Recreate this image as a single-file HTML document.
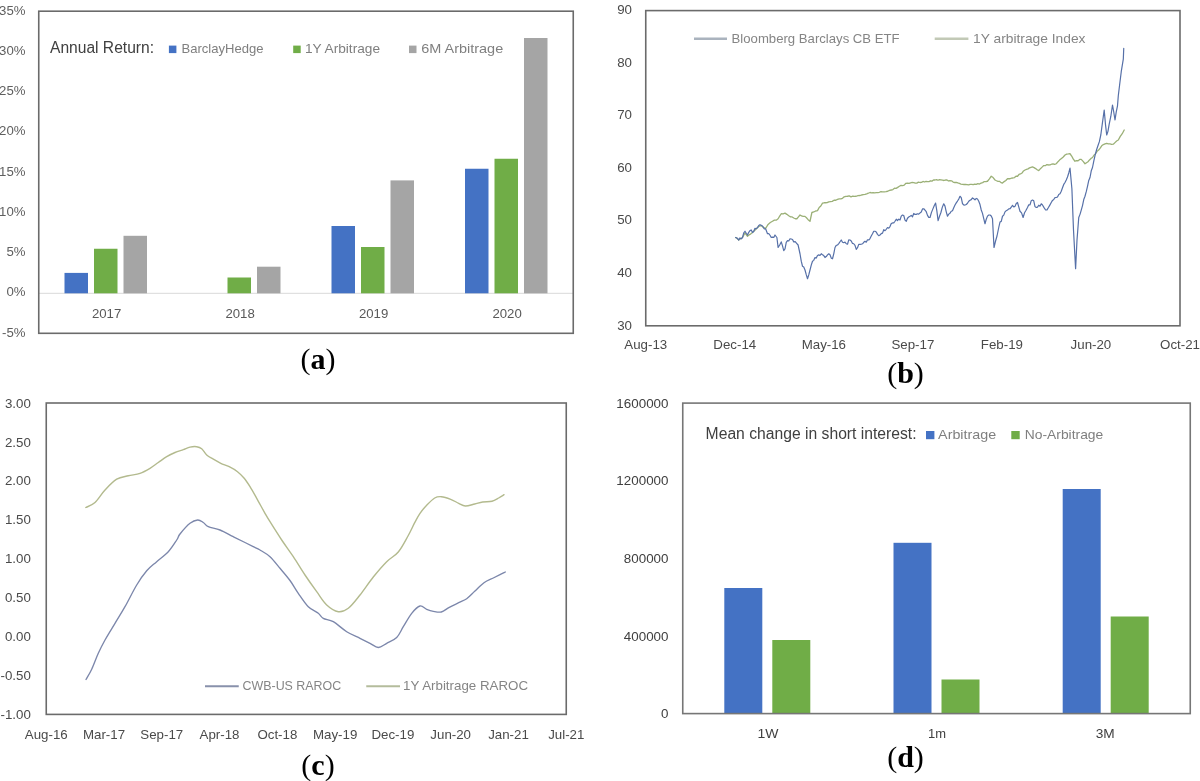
<!DOCTYPE html>
<html><head><meta charset="utf-8"><style>
html,body{margin:0;padding:0;background:#fff;}
svg{display:block;filter:blur(0.3px);}
</style></head><body>
<svg width="1200" height="781" viewBox="0 0 1200 781">
<rect width="1200" height="781" fill="#fff"/>
<line x1="38.75" y1="293.3" x2="573.25" y2="293.3" stroke="#d9d9d9" stroke-width="1"/>
<rect x="64.50" y="272.90" width="23.50" height="20.40" fill="#4472C4"/>
<rect x="94.00" y="248.75" width="23.50" height="44.55" fill="#70AD47"/>
<rect x="123.50" y="235.80" width="23.50" height="57.50" fill="#A5A5A5"/>
<rect x="227.50" y="277.50" width="23.50" height="15.80" fill="#70AD47"/>
<rect x="257.00" y="266.70" width="23.50" height="26.60" fill="#A5A5A5"/>
<rect x="331.50" y="226.00" width="23.50" height="67.30" fill="#4472C4"/>
<rect x="361.00" y="247.00" width="23.50" height="46.30" fill="#70AD47"/>
<rect x="390.50" y="180.40" width="23.50" height="112.90" fill="#A5A5A5"/>
<rect x="465.00" y="168.75" width="23.50" height="124.55" fill="#4472C4"/>
<rect x="494.50" y="158.75" width="23.50" height="134.55" fill="#70AD47"/>
<rect x="524.00" y="38.00" width="23.50" height="255.30" fill="#A5A5A5"/>
<rect x="38.75" y="11.2" width="534.5" height="322.1" fill="none" stroke="#6b6b6b" stroke-width="1.6"/>
<text x="25.5" y="14.5" font-size="13.2" fill="#5f5f5f" text-anchor="end" font-weight="normal" font-family='"Liberation Sans", sans-serif'>35%</text>
<text x="25.5" y="54.7625" font-size="13.2" fill="#5f5f5f" text-anchor="end" font-weight="normal" font-family='"Liberation Sans", sans-serif'>30%</text>
<text x="25.5" y="95.025" font-size="13.2" fill="#5f5f5f" text-anchor="end" font-weight="normal" font-family='"Liberation Sans", sans-serif'>25%</text>
<text x="25.5" y="135.28750000000002" font-size="13.2" fill="#5f5f5f" text-anchor="end" font-weight="normal" font-family='"Liberation Sans", sans-serif'>20%</text>
<text x="25.5" y="175.55" font-size="13.2" fill="#5f5f5f" text-anchor="end" font-weight="normal" font-family='"Liberation Sans", sans-serif'>15%</text>
<text x="25.5" y="215.8125" font-size="13.2" fill="#5f5f5f" text-anchor="end" font-weight="normal" font-family='"Liberation Sans", sans-serif'>10%</text>
<text x="25.5" y="256.075" font-size="13.2" fill="#5f5f5f" text-anchor="end" font-weight="normal" font-family='"Liberation Sans", sans-serif'>5%</text>
<text x="25.5" y="296.33750000000003" font-size="13.2" fill="#5f5f5f" text-anchor="end" font-weight="normal" font-family='"Liberation Sans", sans-serif'>0%</text>
<text x="25.5" y="336.6" font-size="13.2" fill="#5f5f5f" text-anchor="end" font-weight="normal" font-family='"Liberation Sans", sans-serif'>-5%</text>
<text x="106.55" y="317.6" font-size="13.2" fill="#595959" text-anchor="middle" font-weight="normal" font-family='"Liberation Sans", sans-serif'>2017</text>
<text x="240.05" y="317.6" font-size="13.2" fill="#595959" text-anchor="middle" font-weight="normal" font-family='"Liberation Sans", sans-serif'>2018</text>
<text x="373.55" y="317.6" font-size="13.2" fill="#595959" text-anchor="middle" font-weight="normal" font-family='"Liberation Sans", sans-serif'>2019</text>
<text x="507.05" y="317.6" font-size="13.2" fill="#595959" text-anchor="middle" font-weight="normal" font-family='"Liberation Sans", sans-serif'>2020</text>
<text x="50" y="53.1" font-size="15.6" fill="#404040" text-anchor="start" font-weight="normal" font-family='"Liberation Sans", sans-serif' textLength="104" lengthAdjust="spacingAndGlyphs">Annual Return:</text>
<rect x="168.90" y="45.60" width="7.50" height="7.50" fill="#4472C4"/>
<text x="181.5" y="52.6" font-size="13" fill="#7f7f7f" text-anchor="start" font-weight="normal" font-family='"Liberation Sans", sans-serif' textLength="82" lengthAdjust="spacingAndGlyphs">BarclayHedge</text>
<rect x="293.20" y="45.60" width="7.50" height="7.50" fill="#70AD47"/>
<text x="305" y="52.6" font-size="13" fill="#7f7f7f" text-anchor="start" font-weight="normal" font-family='"Liberation Sans", sans-serif' textLength="75" lengthAdjust="spacingAndGlyphs">1Y Arbitrage</text>
<rect x="409.00" y="45.60" width="7.50" height="7.50" fill="#A5A5A5"/>
<text x="421.2" y="52.6" font-size="13" fill="#7f7f7f" text-anchor="start" font-weight="normal" font-family='"Liberation Sans", sans-serif' textLength="82" lengthAdjust="spacingAndGlyphs">6M Arbitrage</text>
<rect x="645.75" y="10.6" width="534.25" height="315.2" fill="none" stroke="#6b6b6b" stroke-width="1.6"/>
<text x="632" y="14.3" font-size="13.3" fill="#4a4a4a" text-anchor="end" font-weight="normal" font-family='"Liberation Sans", sans-serif'>90</text>
<text x="632" y="66.83333333333333" font-size="13.3" fill="#4a4a4a" text-anchor="end" font-weight="normal" font-family='"Liberation Sans", sans-serif'>80</text>
<text x="632" y="119.36666666666666" font-size="13.3" fill="#4a4a4a" text-anchor="end" font-weight="normal" font-family='"Liberation Sans", sans-serif'>70</text>
<text x="632" y="171.89999999999998" font-size="13.3" fill="#4a4a4a" text-anchor="end" font-weight="normal" font-family='"Liberation Sans", sans-serif'>60</text>
<text x="632" y="224.4333333333333" font-size="13.3" fill="#4a4a4a" text-anchor="end" font-weight="normal" font-family='"Liberation Sans", sans-serif'>50</text>
<text x="632" y="276.9666666666667" font-size="13.3" fill="#4a4a4a" text-anchor="end" font-weight="normal" font-family='"Liberation Sans", sans-serif'>40</text>
<text x="632" y="329.5" font-size="13.3" fill="#4a4a4a" text-anchor="end" font-weight="normal" font-family='"Liberation Sans", sans-serif'>30</text>
<text x="645.75" y="349.3" font-size="13.3" fill="#4a4a4a" text-anchor="middle" font-weight="normal" font-family='"Liberation Sans", sans-serif'>Aug-13</text>
<text x="734.7916666666666" y="349.3" font-size="13.3" fill="#4a4a4a" text-anchor="middle" font-weight="normal" font-family='"Liberation Sans", sans-serif'>Dec-14</text>
<text x="823.8333333333334" y="349.3" font-size="13.3" fill="#4a4a4a" text-anchor="middle" font-weight="normal" font-family='"Liberation Sans", sans-serif'>May-16</text>
<text x="912.875" y="349.3" font-size="13.3" fill="#4a4a4a" text-anchor="middle" font-weight="normal" font-family='"Liberation Sans", sans-serif'>Sep-17</text>
<text x="1001.9166666666667" y="349.3" font-size="13.3" fill="#4a4a4a" text-anchor="middle" font-weight="normal" font-family='"Liberation Sans", sans-serif'>Feb-19</text>
<text x="1090.9583333333333" y="349.3" font-size="13.3" fill="#4a4a4a" text-anchor="middle" font-weight="normal" font-family='"Liberation Sans", sans-serif'>Jun-20</text>
<text x="1180.0" y="349.3" font-size="13.3" fill="#4a4a4a" text-anchor="middle" font-weight="normal" font-family='"Liberation Sans", sans-serif'>Oct-21</text>
<line x1="694" y1="38.75" x2="727" y2="38.75" stroke="#aab3be" stroke-width="2.3"/>
<text x="731.6" y="42.9" font-size="13" fill="#858585" text-anchor="start" font-weight="normal" font-family='"Liberation Sans", sans-serif' textLength="168" lengthAdjust="spacingAndGlyphs">Bloomberg Barclays CB ETF</text>
<line x1="934.7" y1="38.75" x2="968.4" y2="38.75" stroke="#c2c9b6" stroke-width="2.3"/>
<text x="973" y="42.9" font-size="13" fill="#858585" text-anchor="start" font-weight="normal" font-family='"Liberation Sans", sans-serif' textLength="112.5" lengthAdjust="spacingAndGlyphs">1Y arbitrage Index</text>
<polyline points="735.60,237.50 737.17,238.44 738.75,240.00 740.62,238.80 742.50,237.50 745.00,233.00 747.50,236.25 749.17,234.84 750.83,233.87 752.50,232.50 754.38,230.78 756.25,228.75 757.92,227.18 759.58,226.07 761.25,225.60 763.42,227.45 765.60,228.50 768.10,224.40 770.30,222.54 772.50,221.25 774.37,220.10 776.23,220.18 778.10,218.75 779.67,216.21 781.25,213.75 783.12,213.83 785.00,213.10 786.87,214.34 788.73,215.80 790.60,216.90 792.17,216.94 793.75,217.99 795.33,218.73 796.90,218.75 798.45,216.90 800.00,215.00 801.56,215.91 803.12,216.46 804.69,216.35 806.25,217.50 808.12,219.68 810.00,221.25 811.90,212.50 813.77,211.98 815.63,210.99 817.50,210.60 819.17,207.54 820.83,206.04 822.50,203.10 824.06,202.77 825.62,202.76 827.19,202.65 828.75,201.90 830.50,201.66 832.25,201.41 834.00,200.27 835.75,200.26 837.50,199.40 839.17,198.81 840.83,198.87 842.50,198.28 844.17,196.82 845.83,196.34 847.50,196.25 849.25,195.91 851.00,196.81 852.75,196.17 854.50,196.40 856.25,196.25 858.00,195.64 859.75,195.52 861.50,195.00 863.25,194.59 865.00,194.40 866.67,193.87 868.33,193.23 870.00,192.50 871.56,192.91 873.12,192.57 874.69,192.79 876.25,192.63 877.81,192.71 879.38,192.26 880.94,191.57 882.50,191.90 884.25,191.95 886.00,191.70 887.75,191.25 889.50,190.46 891.25,190.00 892.88,189.57 894.50,188.27 896.12,188.33 897.75,187.33 899.38,186.29 901.00,185.34 902.62,185.59 904.25,185.07 905.88,183.30 907.50,183.10 909.06,183.39 910.62,182.84 912.19,182.46 913.75,182.55 915.31,183.05 916.88,183.10 918.44,182.03 920.00,182.50 921.50,182.39 923.00,181.45 924.50,182.01 926.00,181.30 927.50,181.71 929.00,181.58 930.50,180.76 932.00,181.10 933.50,180.02 935.00,180.00 936.50,179.55 938.00,180.24 939.50,179.62 941.00,179.88 942.50,180.19 944.00,180.49 945.50,180.01 947.00,179.93 948.50,180.98 950.00,180.60 951.56,180.85 953.12,182.10 954.69,182.50 956.25,182.35 957.81,182.93 959.38,183.47 960.94,184.10 962.50,184.40 964.03,184.51 965.56,184.47 967.08,184.54 968.61,184.93 970.14,184.41 971.67,184.32 973.19,184.66 974.72,184.09 976.25,184.40 977.86,183.71 979.46,184.07 981.07,183.08 982.68,182.66 984.29,181.56 985.89,181.60 987.50,181.25 989.38,178.85 991.25,176.25 993.12,177.55 995.00,180.00 996.50,180.76 998.00,181.40 999.50,181.33 1001.00,182.63 1002.50,183.10 1004.17,181.61 1005.83,180.42 1007.50,178.75 1010.00,178.75 1011.50,178.07 1013.00,178.00 1014.50,177.54 1016.00,176.18 1017.50,176.25 1019.00,174.47 1020.50,173.96 1022.00,173.06 1023.50,170.95 1025.00,170.00 1026.50,169.33 1028.00,168.87 1029.50,167.92 1031.00,167.36 1032.50,166.90 1034.06,167.60 1035.62,168.59 1037.19,169.79 1038.75,170.60 1040.42,168.69 1042.08,167.12 1043.75,165.60 1045.31,165.70 1046.88,164.57 1048.44,164.99 1050.00,164.96 1051.56,164.22 1053.12,163.88 1054.69,164.35 1056.25,163.75 1058.00,161.69 1059.75,159.87 1061.50,158.42 1063.25,156.99 1065.00,155.00 1066.67,154.11 1068.33,153.95 1070.00,153.75 1071.67,156.05 1073.33,159.15 1075.00,161.25 1076.56,160.71 1078.12,160.75 1079.69,159.47 1081.25,159.40 1083.12,161.38 1085.00,163.75 1086.50,162.68 1088.00,161.71 1089.50,159.94 1091.00,158.42 1092.50,157.50 1094.03,155.10 1095.57,153.64 1097.10,151.28 1098.63,150.07 1100.17,148.16 1101.70,145.80 1103.37,144.59 1105.03,143.87 1106.70,143.30 1108.35,143.89 1110.00,143.92 1111.65,144.34 1113.30,144.20 1114.97,142.61 1116.63,140.96 1118.30,140.00 1120.27,136.42 1122.23,133.69 1124.20,130.00" fill="none" stroke="#9bb077" stroke-width="1.3" stroke-linejoin="round" stroke-linecap="round"/>
<polyline points="735.60,237.50 737.17,238.12 738.75,240.00 740.00,237.91 741.25,238.88 742.50,237.50 743.75,232.84 745.00,231.25 746.25,233.25 747.50,235.00 748.75,232.32 750.00,230.60 751.25,229.96 752.50,232.50 753.75,231.28 755.00,228.33 756.25,228.75 757.50,227.65 758.75,225.48 760.00,224.69 761.25,225.30 762.70,226.18 764.15,228.78 765.60,228.75 767.50,233.75 768.75,233.65 770.00,235.25 771.25,237.50 772.50,237.13 773.75,237.45 775.00,235.00 776.90,237.50 778.10,247.50 779.67,244.98 781.25,241.90 782.50,245.88 783.75,250.60 785.00,248.98 786.25,242.30 787.50,240.60 788.75,240.97 790.00,238.75 791.25,239.04 792.50,239.57 793.75,241.90 795.20,241.56 796.65,243.28 798.10,245.00 800.00,253.75 801.25,261.14 802.50,266.25 803.75,266.98 805.00,270.00 806.25,274.67 807.50,278.75 808.75,274.88 810.00,270.00 811.25,265.17 812.50,261.25 813.75,260.37 815.00,257.58 816.25,258.10 817.50,255.43 818.75,254.87 820.00,255.49 821.25,253.75 822.50,254.74 823.75,255.58 825.00,257.50 826.25,256.56 827.50,254.83 828.75,253.75 830.00,254.70 831.25,258.14 832.50,258.75 833.75,253.84 835.00,247.50 836.25,245.33 837.50,245.00 838.75,243.60 840.00,241.76 841.25,240.00 842.50,242.29 843.75,242.70 845.00,242.05 846.25,243.75 847.50,244.23 848.75,239.88 850.00,240.00 851.25,240.96 852.50,243.43 853.75,243.75 855.00,245.32 856.25,249.40 857.50,247.69 858.75,244.41 860.00,244.40 861.25,244.22 862.50,243.78 863.75,242.30 865.00,241.25 866.25,242.19 867.50,239.75 868.75,240.00 870.00,238.52 871.25,235.96 872.50,233.73 873.75,231.25 875.00,231.25 876.25,232.03 877.50,234.35 878.75,235.66 880.00,235.00 881.25,233.66 882.50,233.09 883.75,229.67 885.00,230.73 886.25,229.28 887.50,227.50 888.75,228.23 890.00,226.58 891.25,223.60 892.50,222.92 893.75,222.90 895.00,221.25 896.25,219.22 897.50,220.49 898.75,219.12 900.00,220.00 901.25,216.12 902.50,215.00 903.75,215.50 905.00,220.13 906.25,221.25 907.50,218.25 908.75,217.01 910.00,216.25 911.25,215.44 912.50,216.75 913.75,213.49 915.00,214.40 916.25,214.34 917.50,213.75 918.75,214.13 920.00,212.90 921.25,212.06 922.50,208.95 923.75,208.75 925.00,210.20 926.25,211.74 927.50,215.38 928.75,217.40 930.00,217.50 931.40,212.64 932.80,209.13 934.20,205.74 935.60,203.10 936.85,210.89 938.10,220.60 939.51,216.33 940.92,212.50 942.34,207.11 943.75,203.75 945.00,206.13 946.25,211.79 947.50,216.25 948.75,214.11 950.00,213.16 951.25,211.25 952.50,210.80 953.75,207.77 955.00,205.00 956.25,202.87 957.50,201.05 958.75,199.07 960.00,196.25 961.25,197.56 962.50,203.52 963.75,205.00 965.00,205.07 966.25,204.47 967.50,203.26 968.75,201.25 970.00,200.24 971.25,199.64 972.50,197.95 973.75,198.75 975.00,199.86 976.25,198.42 977.50,199.07 978.75,201.25 980.00,204.58 981.25,210.00 982.50,213.37 983.75,218.59 985.00,223.75 986.25,219.22 987.50,216.12 988.75,215.00 990.00,214.99 991.25,216.07 992.50,218.75 994.00,247.50 995.50,241.26 997.00,236.00 998.75,227.50 1000.00,222.04 1001.25,221.35 1002.50,216.25 1003.75,215.10 1005.00,211.86 1006.25,210.67 1007.50,210.00 1008.75,208.83 1010.00,208.75 1011.25,207.22 1012.50,205.31 1013.75,206.88 1015.00,206.36 1016.25,203.42 1017.50,202.50 1018.75,206.82 1020.00,211.25 1021.55,212.88 1023.10,217.50 1024.57,212.73 1026.03,210.27 1027.50,207.50 1028.75,204.78 1030.00,204.93 1031.25,200.66 1032.50,200.00 1033.75,200.78 1035.00,206.62 1036.25,207.50 1037.50,207.10 1038.75,205.23 1040.00,206.16 1041.25,203.80 1042.50,205.00 1044.05,207.60 1045.60,210.00 1047.01,209.85 1048.42,207.56 1049.84,205.08 1051.25,202.50 1052.50,200.39 1053.75,199.52 1055.00,197.55 1056.25,197.50 1057.50,196.92 1058.75,194.49 1060.00,193.82 1061.25,191.25 1062.50,187.72 1063.75,184.42 1065.00,182.50 1066.25,180.02 1067.50,177.05 1068.75,172.97 1070.00,168.10 1071.90,188.75 1073.50,230.00 1075.60,268.75 1077.00,240.00 1078.75,217.50 1080.00,214.35 1081.25,210.15 1082.50,205.61 1083.75,199.52 1085.00,196.25 1086.25,191.63 1087.50,186.36 1088.75,180.49 1090.00,177.50 1091.25,170.80 1092.50,167.50 1093.83,160.87 1095.17,154.97 1096.50,150.00 1097.93,145.69 1099.37,141.64 1100.80,135.00 1102.50,122.31 1104.20,110.00 1105.45,124.07 1106.70,135.00 1107.95,131.36 1109.20,124.20 1110.85,116.24 1112.50,105.00 1113.75,112.01 1115.00,120.00 1116.25,111.89 1117.50,105.80 1118.30,95.80 1119.60,85.00 1121.25,71.70 1123.30,59.20 1123.75,48.30" fill="none" stroke="#5670a8" stroke-width="1.2" stroke-linejoin="round" stroke-linecap="round"/>
<rect x="46.25" y="403" width="520.0" height="311.4" fill="none" stroke="#6b6b6b" stroke-width="1.6"/>
<text x="30.8" y="407.6" font-size="13.3" fill="#4a4a4a" text-anchor="end" font-weight="normal" font-family='"Liberation Sans", sans-serif'>3.00</text>
<text x="30.8" y="446.52500000000003" font-size="13.3" fill="#4a4a4a" text-anchor="end" font-weight="normal" font-family='"Liberation Sans", sans-serif'>2.50</text>
<text x="30.8" y="485.45000000000005" font-size="13.3" fill="#4a4a4a" text-anchor="end" font-weight="normal" font-family='"Liberation Sans", sans-serif'>2.00</text>
<text x="30.8" y="524.375" font-size="13.3" fill="#4a4a4a" text-anchor="end" font-weight="normal" font-family='"Liberation Sans", sans-serif'>1.50</text>
<text x="30.8" y="563.3000000000001" font-size="13.3" fill="#4a4a4a" text-anchor="end" font-weight="normal" font-family='"Liberation Sans", sans-serif'>1.00</text>
<text x="30.8" y="602.225" font-size="13.3" fill="#4a4a4a" text-anchor="end" font-weight="normal" font-family='"Liberation Sans", sans-serif'>0.50</text>
<text x="30.8" y="641.15" font-size="13.3" fill="#4a4a4a" text-anchor="end" font-weight="normal" font-family='"Liberation Sans", sans-serif'>0.00</text>
<text x="30.8" y="680.0749999999999" font-size="13.3" fill="#4a4a4a" text-anchor="end" font-weight="normal" font-family='"Liberation Sans", sans-serif'>-0.50</text>
<text x="30.8" y="719.0" font-size="13.3" fill="#4a4a4a" text-anchor="end" font-weight="normal" font-family='"Liberation Sans", sans-serif'>-1.00</text>
<text x="46.25" y="738.9" font-size="13.3" fill="#4a4a4a" text-anchor="middle" font-weight="normal" font-family='"Liberation Sans", sans-serif'>Aug-16</text>
<text x="104.02777777777777" y="738.9" font-size="13.3" fill="#4a4a4a" text-anchor="middle" font-weight="normal" font-family='"Liberation Sans", sans-serif'>Mar-17</text>
<text x="161.80555555555554" y="738.9" font-size="13.3" fill="#4a4a4a" text-anchor="middle" font-weight="normal" font-family='"Liberation Sans", sans-serif'>Sep-17</text>
<text x="219.58333333333334" y="738.9" font-size="13.3" fill="#4a4a4a" text-anchor="middle" font-weight="normal" font-family='"Liberation Sans", sans-serif'>Apr-18</text>
<text x="277.3611111111111" y="738.9" font-size="13.3" fill="#4a4a4a" text-anchor="middle" font-weight="normal" font-family='"Liberation Sans", sans-serif'>Oct-18</text>
<text x="335.1388888888889" y="738.9" font-size="13.3" fill="#4a4a4a" text-anchor="middle" font-weight="normal" font-family='"Liberation Sans", sans-serif'>May-19</text>
<text x="392.9166666666667" y="738.9" font-size="13.3" fill="#4a4a4a" text-anchor="middle" font-weight="normal" font-family='"Liberation Sans", sans-serif'>Dec-19</text>
<text x="450.69444444444446" y="738.9" font-size="13.3" fill="#4a4a4a" text-anchor="middle" font-weight="normal" font-family='"Liberation Sans", sans-serif'>Jun-20</text>
<text x="508.47222222222223" y="738.9" font-size="13.3" fill="#4a4a4a" text-anchor="middle" font-weight="normal" font-family='"Liberation Sans", sans-serif'>Jan-21</text>
<text x="566.25" y="738.9" font-size="13.3" fill="#4a4a4a" text-anchor="middle" font-weight="normal" font-family='"Liberation Sans", sans-serif'>Jul-21</text>
<line x1="205" y1="686.25" x2="238.75" y2="686.25" stroke="#8891ab" stroke-width="1.8"/>
<text x="242.5" y="689.8" font-size="13" fill="#858585" text-anchor="start" font-weight="normal" font-family='"Liberation Sans", sans-serif' textLength="98.75" lengthAdjust="spacingAndGlyphs">CWB-US RAROC</text>
<line x1="366.25" y1="686.25" x2="400" y2="686.25" stroke="#b4bc9c" stroke-width="1.8"/>
<text x="403.1" y="689.8" font-size="13" fill="#858585" text-anchor="start" font-weight="normal" font-family='"Liberation Sans", sans-serif' textLength="125" lengthAdjust="spacingAndGlyphs">1Y Arbitrage RAROC</text>
<path d="M85.80,507.50 C87.33,506.67 91.80,505.42 95.00,502.50 C98.20,499.58 101.38,493.88 105.00,490.00 C108.62,486.12 112.82,481.57 116.70,479.20 C120.58,476.83 124.42,476.78 128.30,475.80 C132.18,474.82 136.38,474.55 140.00,473.30 C143.62,472.05 146.95,470.10 150.00,468.30 C153.05,466.50 155.52,464.43 158.30,462.50 C161.08,460.57 163.92,458.37 166.70,456.70 C169.48,455.03 172.23,453.68 175.00,452.50 C177.77,451.32 180.80,450.50 183.30,449.60 C185.80,448.70 187.77,447.58 190.00,447.10 C192.23,446.62 194.75,446.43 196.70,446.70 C198.65,446.97 200.03,447.37 201.70,448.75 C203.37,450.13 204.77,453.26 206.70,455.00 C208.63,456.74 210.95,457.82 213.30,459.20 C215.65,460.58 218.15,462.05 220.80,463.30 C223.45,464.55 226.42,465.30 229.20,466.70 C231.98,468.10 235.00,469.77 237.50,471.70 C240.00,473.63 242.12,475.80 244.20,478.30 C246.28,480.80 247.92,483.37 250.00,486.70 C252.08,490.03 254.20,493.87 256.70,498.30 C259.20,502.73 262.78,509.40 265.00,513.30 C267.22,517.20 267.22,517.25 270.00,521.70 C272.78,526.15 277.82,534.17 281.70,540.00 C285.58,545.83 289.42,550.87 293.30,556.70 C297.18,562.53 301.10,569.17 305.00,575.00 C308.90,580.83 313.08,586.70 316.70,591.70 C320.32,596.70 323.10,601.67 326.70,605.00 C330.30,608.33 334.70,611.15 338.30,611.70 C341.90,612.25 344.68,611.08 348.30,608.30 C351.92,605.52 355.83,600.22 360.00,595.00 C364.17,589.78 368.85,582.55 373.30,577.00 C377.75,571.45 382.53,565.87 386.70,561.70 C390.87,557.53 394.75,556.28 398.30,552.00 C401.85,547.72 405.27,540.88 408.00,536.00 C410.73,531.12 412.70,526.48 414.70,522.70 C416.70,518.92 418.00,516.20 420.00,513.30 C422.00,510.40 424.25,507.85 426.70,505.30 C429.15,502.75 432.27,499.43 434.70,498.00 C437.13,496.57 438.63,496.48 441.30,496.70 C443.97,496.92 447.80,498.20 450.70,499.30 C453.60,500.40 456.27,502.18 458.70,503.30 C461.13,504.42 462.63,505.88 465.30,506.00 C467.97,506.12 471.80,504.67 474.70,504.00 C477.60,503.33 479.82,502.45 482.70,502.00 C485.58,501.55 489.33,501.97 492.00,501.30 C494.67,500.63 496.70,499.10 498.70,498.00 C500.70,496.90 503.12,495.25 504.00,494.70" fill="none" stroke="#b3ba8e" stroke-width="1.4" stroke-linejoin="round" stroke-linecap="round"/>
<path d="M86.00,679.50 C86.95,677.78 89.65,673.57 91.70,669.20 C93.75,664.83 96.08,658.17 98.30,653.30 C100.52,648.43 102.22,645.00 105.00,640.00 C107.78,635.00 111.67,628.85 115.00,623.30 C118.33,617.75 121.38,613.08 125.00,606.70 C128.62,600.32 133.08,590.98 136.70,585.00 C140.32,579.02 143.37,574.68 146.70,570.80 C150.03,566.92 153.10,564.88 156.70,561.70 C160.30,558.52 164.97,555.32 168.30,551.70 C171.63,548.08 174.75,542.95 176.70,540.00 C178.65,537.05 177.78,536.78 180.00,534.00 C182.22,531.22 187.05,525.63 190.00,523.30 C192.95,520.97 195.48,520.13 197.70,520.00 C199.92,519.87 201.53,521.38 203.30,522.50 C205.07,523.62 205.52,525.45 208.30,526.70 C211.08,527.95 215.83,528.33 220.00,530.00 C224.17,531.67 229.13,534.62 233.30,536.70 C237.47,538.78 241.67,540.83 245.00,542.50 C248.33,544.17 250.80,545.45 253.30,546.70 C255.80,547.95 257.22,548.33 260.00,550.00 C262.78,551.67 266.67,553.65 270.00,556.70 C273.33,559.75 276.67,564.33 280.00,568.30 C283.33,572.27 286.95,576.33 290.00,580.50 C293.05,584.67 295.25,588.93 298.30,593.30 C301.35,597.67 304.97,603.37 308.30,606.70 C311.63,610.03 315.80,611.37 318.30,613.30 C320.80,615.23 320.80,616.90 323.30,618.30 C325.80,619.70 329.40,619.47 333.30,621.70 C337.20,623.93 342.25,628.93 346.70,631.70 C351.15,634.47 356.12,636.37 360.00,638.30 C363.88,640.23 366.95,641.77 370.00,643.30 C373.05,644.83 375.52,647.50 378.30,647.50 C381.08,647.50 383.63,644.97 386.70,643.30 C389.77,641.63 393.93,640.27 396.70,637.50 C399.47,634.73 400.80,630.73 403.30,626.70 C405.80,622.67 408.92,616.75 411.70,613.30 C414.48,609.85 417.50,606.67 420.00,606.00 C422.50,605.33 424.48,608.42 426.70,609.30 C428.92,610.18 430.87,610.85 433.30,611.30 C435.73,611.75 438.63,612.67 441.30,612.00 C443.97,611.33 446.40,608.85 449.30,607.30 C452.20,605.75 455.80,604.13 458.70,602.70 C461.60,601.27 464.03,600.60 466.70,598.70 C469.37,596.80 471.82,593.97 474.70,591.30 C477.58,588.63 480.90,584.92 484.00,582.70 C487.10,580.48 490.63,579.33 493.30,578.00 C495.97,576.67 498.00,575.70 500.00,574.70 C502.00,573.70 504.42,572.45 505.30,572.00" fill="none" stroke="#7c87ab" stroke-width="1.35" stroke-linejoin="round" stroke-linecap="round"/>
<rect x="724.30" y="588.00" width="38.00" height="125.60" fill="#4472C4"/>
<rect x="772.30" y="640.00" width="38.00" height="73.60" fill="#70AD47"/>
<rect x="893.50" y="542.80" width="38.00" height="170.80" fill="#4472C4"/>
<rect x="941.50" y="679.50" width="38.00" height="34.10" fill="#70AD47"/>
<rect x="1062.70" y="489.00" width="38.00" height="224.60" fill="#4472C4"/>
<rect x="1110.70" y="616.50" width="38.00" height="97.10" fill="#70AD47"/>
<rect x="682.75" y="403.1" width="507.5" height="310.5" fill="none" stroke="#767676" stroke-width="1.6"/>
<text x="668.5" y="407.70000000000005" font-size="13.3" fill="#404040" text-anchor="end" font-weight="normal" font-family='"Liberation Sans", sans-serif' textLength="52.15" lengthAdjust="spacingAndGlyphs">1600000</text>
<text x="668.5" y="485.32500000000005" font-size="13.3" fill="#404040" text-anchor="end" font-weight="normal" font-family='"Liberation Sans", sans-serif' textLength="52.15" lengthAdjust="spacingAndGlyphs">1200000</text>
<text x="668.5" y="562.95" font-size="13.3" fill="#404040" text-anchor="end" font-weight="normal" font-family='"Liberation Sans", sans-serif' textLength="44.7" lengthAdjust="spacingAndGlyphs">800000</text>
<text x="668.5" y="640.575" font-size="13.3" fill="#404040" text-anchor="end" font-weight="normal" font-family='"Liberation Sans", sans-serif' textLength="44.7" lengthAdjust="spacingAndGlyphs">400000</text>
<text x="668.5" y="718.2" font-size="13.3" fill="#404040" text-anchor="end" font-weight="normal" font-family='"Liberation Sans", sans-serif' textLength="7.45" lengthAdjust="spacingAndGlyphs">0</text>
<text x="757.5" y="737.8" font-size="13.3" fill="#404040" text-anchor="start" font-weight="normal" font-family='"Liberation Sans", sans-serif' textLength="21" lengthAdjust="spacingAndGlyphs">1W</text>
<text x="928" y="737.8" font-size="13.3" fill="#404040" text-anchor="start" font-weight="normal" font-family='"Liberation Sans", sans-serif' textLength="18" lengthAdjust="spacingAndGlyphs">1m</text>
<text x="1095.75" y="737.8" font-size="13.3" fill="#404040" text-anchor="start" font-weight="normal" font-family='"Liberation Sans", sans-serif' textLength="19" lengthAdjust="spacingAndGlyphs">3M</text>
<text x="705.6" y="439" font-size="15.6" fill="#404040" text-anchor="start" font-weight="normal" font-family='"Liberation Sans", sans-serif' textLength="211" lengthAdjust="spacingAndGlyphs">Mean change in short interest:</text>
<rect x="926.00" y="431.00" width="8.40" height="8.20" fill="#4472C4"/>
<text x="938.1" y="439" font-size="13" fill="#7f7f7f" text-anchor="start" font-weight="normal" font-family='"Liberation Sans", sans-serif' textLength="58" lengthAdjust="spacingAndGlyphs">Arbitrage</text>
<rect x="1011.30" y="431.00" width="8.40" height="8.20" fill="#70AD47"/>
<text x="1024.75" y="439" font-size="13" fill="#7f7f7f" text-anchor="start" font-weight="normal" font-family='"Liberation Sans", sans-serif' textLength="78.5" lengthAdjust="spacingAndGlyphs">No-Arbitrage</text>
<text x="318" y="368.7" font-size="30" fill="#000" text-anchor="middle" font-family='"Liberation Serif", serif'>(<tspan font-weight="bold">a</tspan>)</text>
<text x="905.5" y="383.3" font-size="30" fill="#000" text-anchor="middle" font-family='"Liberation Serif", serif'>(<tspan font-weight="bold">b</tspan>)</text>
<text x="318" y="774.7" font-size="30" fill="#000" text-anchor="middle" font-family='"Liberation Serif", serif'>(<tspan font-weight="bold">c</tspan>)</text>
<text x="905.5" y="767" font-size="30" fill="#000" text-anchor="middle" font-family='"Liberation Serif", serif'>(<tspan font-weight="bold">d</tspan>)</text>
</svg>
</body></html>
